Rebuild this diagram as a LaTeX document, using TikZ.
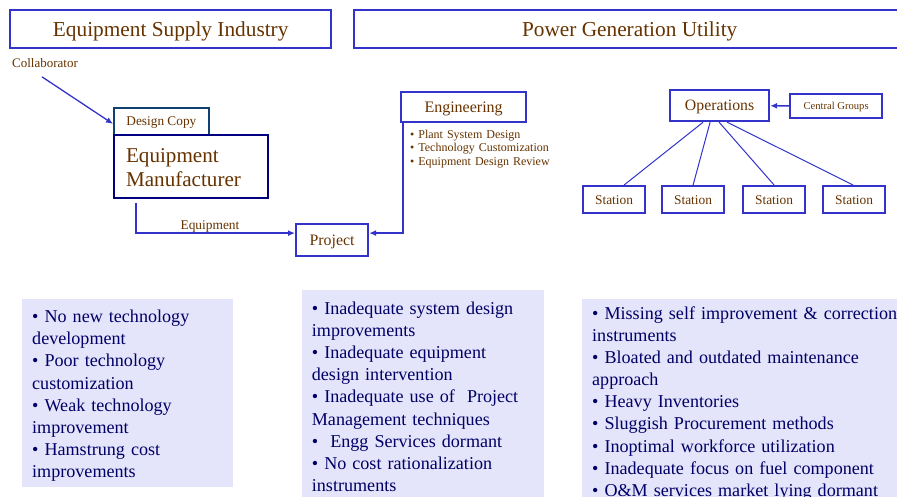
\documentclass[tikz,border=0pt]{standalone}
\usepackage{fontspec}
\setmainfont{Liberation Serif}
\usetikzlibrary{arrows.meta}
\definecolor{frameblue}{RGB}{51,51,204}
\definecolor{labelbrown}{RGB}{102,51,0}
\definecolor{issuenavy}{RGB}{0,0,102}
\definecolor{issuebg}{RGB}{228,228,250}
\definecolor{copyteal}{RGB}{16,64,112}
\definecolor{makernavy}{RGB}{0,0,128}
\tikzset{capfont/.style={font=\fontsize{#1}{#1}\selectfont, text height=0.662*#1pt, text depth=0pt}}
\tikzstyle{header} = [draw=frameblue, line width=2.4pt, inner sep=0pt, anchor=north west, text=labelbrown, capfont=21.3]
\tikzstyle{unit} = [draw=frameblue, line width=2.2pt, inner sep=0pt, anchor=north west, text=labelbrown]
\tikzstyle{issues} = [fill=issuebg, inner sep=0pt, anchor=north west]
\tikzstyle{issuetext} = [inner sep=0pt, anchor=base west, text width=330pt, align=left, text=issuenavy, font=\fontsize{18.1}{22.2}\selectfont]
\tikzstyle{feed} = [draw=frameblue, line width=1.3pt, -{Latex[length=7pt,width=6pt]}]

\begin{document}
\begin{tikzpicture}[x=1pt, y=-1pt]%
	\useasboundingbox (0,0) rectangle (897,497);%
	% the two sides
	\node [header, minimum width=321pt, minimum height=38pt] (supply) at (9,9) {Equipment Supply Industry};%
	\node [header, minimum width=551pt, minimum height=38pt] (utility) at (353,9) {Power Generation Utility};%
	% supplier side
	\node [capfont=13, text=labelbrown] (collab) at (45,63) {Collaborator};%
	\node [unit, draw=copyteal, line width=1.8pt, minimum width=95pt, minimum height=27pt, capfont=13.3] (dcopy) at (113,107) {Design Copy};%
	\node [unit, draw=makernavy, minimum width=154pt, minimum height=63pt, inner xsep=12pt, text width=130pt, align=left, font=\fontsize{21.1}{24}\selectfont, text height=16.4pt, text depth=24pt] (maker) at (113,134) {Equipment\\Manufacturer};%
	\node [unit, minimum width=72pt, minimum height=32pt, capfont=15.9] (project) at (295,223) {Project};%
	\node [unit, minimum width=125pt, minimum height=30pt, capfont=16] (eng) at (400,91) {Engineering};%
	\node [inner sep=0pt, anchor=base west, text width=160pt, align=left, text=labelbrown, font=\fontsize{12}{13.4}\selectfont] (engtasks) at (410,138.3) {• Plant System Design\\• Technology Customization\\• Equipment Design Review};%
	\node [capfont=13.4, text=labelbrown] (eqlabel) at (210,225.5) {Equipment};%
	\draw [feed] ([shift={(-3pt,-6pt)}]collab.south) -- ([yshift=-2.5pt]dcopy.west);%
	\draw [feed] ([shift={(23pt,-4pt)}]maker.south west) |- ([yshift=7pt]project.west);%
	\draw [feed] ([xshift=3pt]eng.south west) |- ([yshift=7pt]project.east);%
	% utility side
	\node [unit, minimum width=99pt, minimum height=31pt, capfont=15.8] (ops) at (669,89) {Operations};%
	\node [unit, minimum width=92pt, minimum height=24pt, capfont=10.6] (central) at (789,93) {Central Groups};%
	\draw [feed] (central) -- (ops);%
	\foreach \x [count=\i] in {582,661,742,822}%
		\node [unit, minimum width=62pt, minimum height=27pt, capfont=13.4] (st\i) at (\x,185) {Station};%
	\foreach \a/\b [count=\i] in {-16.5pt/10pt, -9.5pt/0pt, -0.5pt/0pt, 7.5pt/-1pt}%
		\draw [frameblue, line width=1pt] ([xshift=\a]ops.south) -- ([xshift=\b]st\i.north);%
	% problem lists
	\node [issues, minimum width=211pt, minimum height=188pt] (techbox) at (22,299) {};%
	\node [issuetext] (techlist) at (32,322.5) {• No new technology\\development\\• Poor technology\\customization\\• Weak technology\\improvement\\• Hamstrung cost\\improvements};%
	\node [issues, minimum width=242pt, minimum height=210pt] (projbox) at (302,290) {};%
	\node [issuetext] (projlist) at (311.7,314) {• Inadequate system design\\improvements\\• Inadequate equipment\\design intervention\\• Inadequate use of~ Project\\Management techniques\\•~ Engg Services dormant\\• No cost rationalization\\instruments};%
	\node [issues, minimum width=320pt, minimum height=200pt] (opsbox) at (582,299) {};%
	\node [issuetext] (opslist) at (592,319) {• Missing self improvement \& correction\\instruments\\• Bloated and outdated maintenance\\approach\\• Heavy Inventories\\• Sluggish Procurement methods\\• Inoptimal workforce utilization\\• Inadequate focus on fuel component\\• O\&M services market lying dormant};%
\end{tikzpicture}
\end{document}
